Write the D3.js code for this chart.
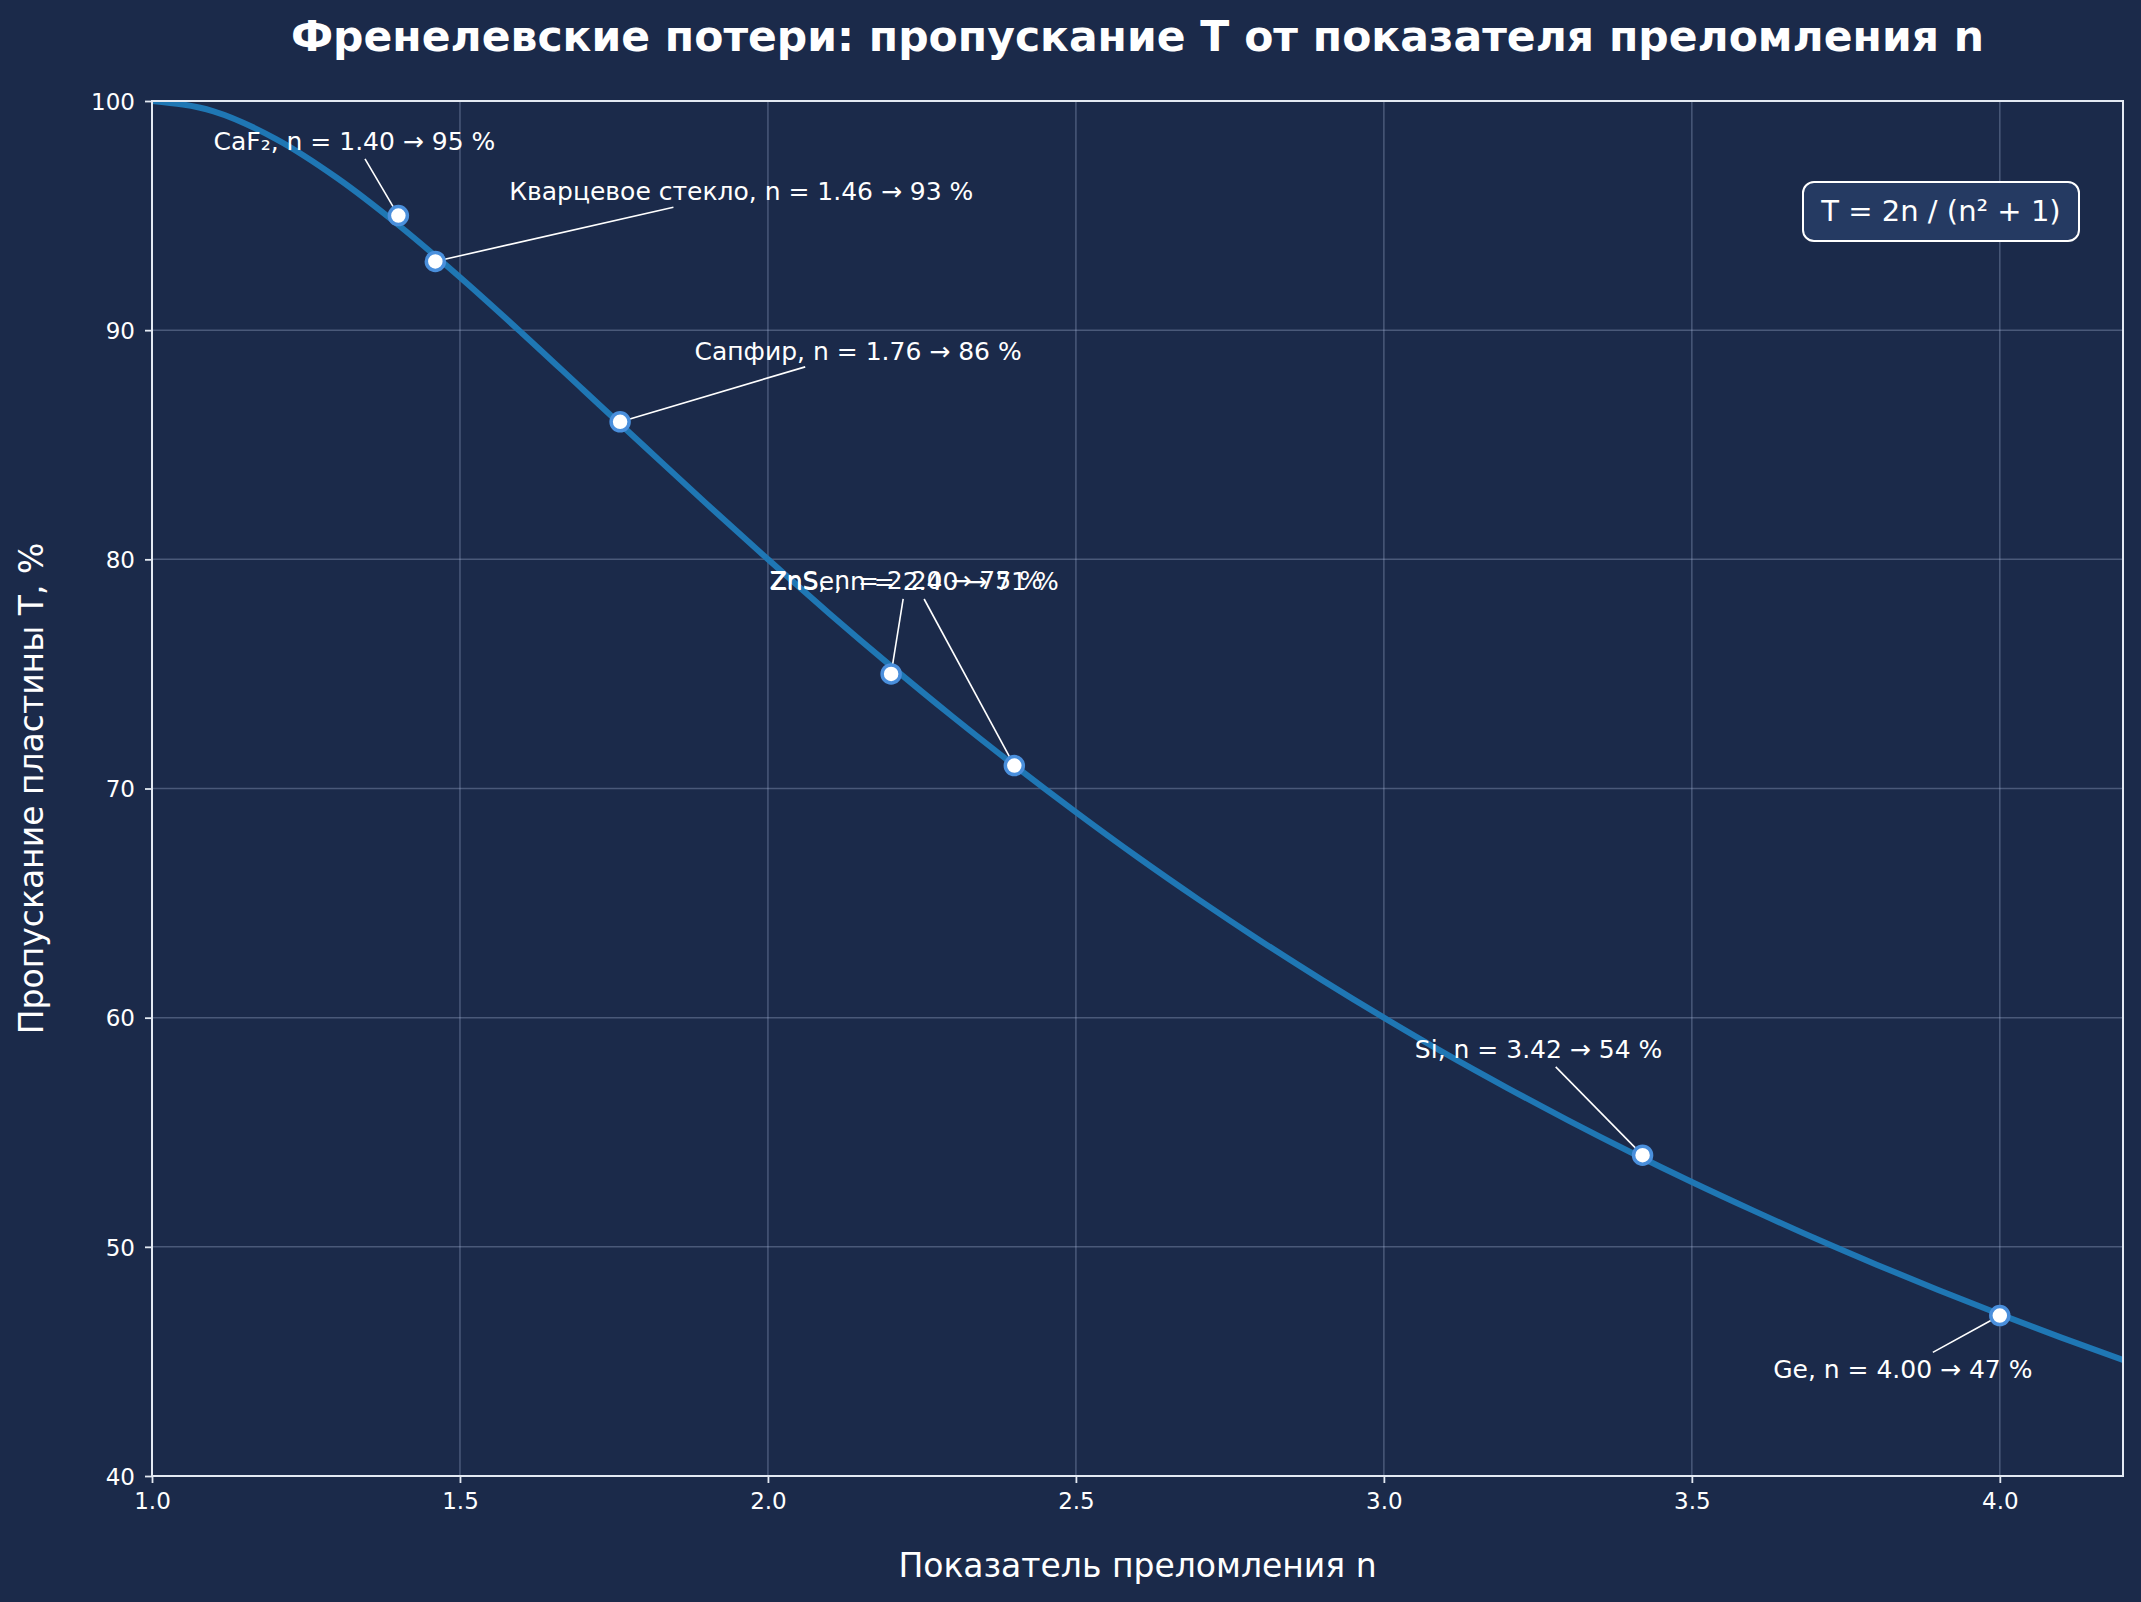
<!DOCTYPE html>
<html>
<head>
<meta charset="utf-8">
<script src="https://cdn.jsdelivr.net/npm/d3@7"></script>
<style>
  html, body { margin: 0; padding: 0; background: #1b2a4a; }
  text { font-family: "DejaVu Sans", sans-serif; fill: #ffffff; }
</style>
</head>
<body>
<div id="my_dataviz"></div>
<script>
// curve values (T in %, every 0.1 of n)
var nValues = [1.0, 1.1, 1.2, 1.3, 1.4, 1.5, 1.6, 1.7, 1.8, 1.9, 2.0, 2.1, 2.2, 2.3, 2.4, 2.5,
               2.6, 2.7, 2.8, 2.9, 3.0, 3.1, 3.2, 3.3, 3.4, 3.5, 3.6, 3.7, 3.8, 3.9, 4.0, 4.1, 4.2];
var tValues = [100.0, 99.55, 98.36, 96.65, 94.59, 92.31, 89.89, 87.40, 84.91, 82.43, 80.0, 77.63,
               75.34, 73.13, 71.01, 68.97, 67.01, 65.14, 63.35, 61.64, 60.0, 58.43, 56.94, 55.51,
               54.14, 52.83, 51.58, 50.37, 49.22, 48.12, 47.06, 46.04, 45.06];

// marked materials
var materials = ["CaF₂", "Кварцевое стекло", "Сапфир", "ZnS", "ZnSe", "Si", "Ge"];
var materialN = [1.40, 1.46, 1.76, 2.20, 2.40, 3.42, 4.00];
var materialT = [95, 93, 86, 75, 71, 54, 47];

var xTicks = [1.0, 1.5, 2.0, 2.5, 3.0, 3.5, 4.0];
var yTicks = [40, 50, 60, 70, 80, 90, 100];

// label offsets from the marker: [dx to text centre, dy to baseline], px
var labelOffsets = [[-44, -66], [306, -61], [238, -62], [15, -85], [-100, -176], [-104, -97], [-97, 62]];

var W = 2141, H = 1602;
var margin = {top: 101, right: 18, bottom: 126, left: 152},
    width = W - margin.left - margin.right,
    height = H - margin.top - margin.bottom;

var svg = d3.select("#my_dataviz")
  .append("svg")
    .attr("width", W)
    .attr("height", H);

svg.append("rect").attr("width", W).attr("height", H).attr("fill", "#1b2a4a");

var g = svg.append("g")
    .attr("transform", "translate(" + margin.left + "," + margin.top + ")");

var x = d3.scaleLinear().domain([1.0, 4.2]).range([0, width]);
var y = d3.scaleLinear().domain([40, 100]).range([height, 0]);

// grid
g.append("g")
  .selectAll("line")
  .data(xTicks)
  .enter().append("line")
    .attr("x1", function(d) { return x(d); })
    .attr("x2", function(d) { return x(d); })
    .attr("y1", 0).attr("y2", height)
    .attr("stroke", "rgba(170,185,220,0.33)").attr("stroke-width", 1.5);
g.append("g")
  .selectAll("line")
  .data(yTicks)
  .enter().append("line")
    .attr("y1", function(d) { return y(d); })
    .attr("y2", function(d) { return y(d); })
    .attr("x1", 0).attr("x2", width)
    .attr("stroke", "rgba(170,185,220,0.33)").attr("stroke-width", 1.5);

// axes
var xAxis = g.append("g")
  .attr("transform", "translate(0," + height + ")")
  .call(d3.axisBottom(x).tickValues(xTicks).tickFormat(d3.format(".1f")).tickSizeInner(7).tickSizeOuter(0).tickPadding(9));
var yAxis = g.append("g")
  .call(d3.axisLeft(y).tickValues(yTicks).tickFormat(d3.format("d")).tickSizeInner(7).tickSizeOuter(0).tickPadding(10));

[xAxis, yAxis].forEach(function(a) {
  a.select(".domain").remove();
  a.selectAll(".tick line").attr("stroke", "#e3e9f2").attr("stroke-width", 1.8);
  a.selectAll(".tick text").attr("fill", "#ffffff").style("font-size", "23px").style("font-family", "DejaVu Sans");
});
xAxis.selectAll(".tick text").attr("dy", "0.72em");
yAxis.selectAll(".tick text").attr("dy", "0.36em");

// curve
g.append("clipPath").attr("id", "plotclip")
  .append("rect").attr("width", width).attr("height", height);

var curveData = nValues.map(function(n, i) { return [n, tValues[i]]; });
g.append("path")
  .datum(curveData)
  .attr("clip-path", "url(#plotclip)")
  .attr("fill", "none")
  .attr("stroke", "#1f77b4")
  .attr("stroke-width", 6)
  .attr("d", d3.line()
    .x(function(d) { return x(d[0]); })
    .y(function(d) { return y(d[1]); })
    .curve(d3.curveMonotoneX));

// frame
g.append("rect")
  .attr("width", width).attr("height", height)
  .attr("fill", "none").attr("stroke", "#e3e9f2").attr("stroke-width", 2);

// annotations
var arrowG = g.append("g");
var labelG = g.append("g");
var fs = 25;
materials.forEach(function(m, i) {
  var px = x(materialN[i]), py = y(materialT[i]);
  var cx = px + labelOffsets[i][0], by = py + labelOffsets[i][1];
  var label = m + ", n = " + materialN[i].toFixed(2) + " → " + materialT[i] + " %";
  var t = labelG.append("text")
    .attr("x", cx).attr("y", by)
    .attr("text-anchor", "middle")
    .style("font-size", fs + "px")
    .text(label);
  var w = t.node().getComputedTextLength();
  var top = by - 0.93 * fs, bot = by + 0.236 * fs;
  var ccx = cx, ccy = (top + bot) / 2;
  var dx = px - ccx, dy = py - ccy;
  var tt = Math.min((w / 2) / Math.abs(dx || 1e-6), ((bot - top) / 2) / Math.abs(dy || 1e-6));
  var len = Math.sqrt(dx * dx + dy * dy), ux = dx / len, uy = dy / len;
  var sx = ccx + dx * tt + ux * 4, sy = ccy + dy * tt + uy * 4;
  arrowG.append("line")
    .attr("x1", sx).attr("y1", sy)
    .attr("x2", px - ux * 4).attr("y2", py - uy * 4)
    .attr("stroke", "#ffffff").attr("stroke-width", 1.6);
});

// markers
g.append("g")
  .selectAll("circle")
  .data(materialN)
  .enter().append("circle")
    .attr("cx", function(d) { return x(d); })
    .attr("cy", function(d, i) { return y(materialT[i]); })
    .attr("r", 9)
    .attr("fill", "#ffffff")
    .attr("stroke", "#4a8fdc")
    .attr("stroke-width", 3.5);

// formula box
svg.append("rect")
  .attr("x", 1803).attr("y", 182).attr("width", 276).attr("height", 59).attr("rx", 11)
  .attr("fill", "#253a62").attr("stroke", "#ffffff").attr("stroke-width", 2);
svg.append("text")
  .attr("x", 1941).attr("y", 221)
  .attr("text-anchor", "middle")
  .style("font-size", "29px")
  .text("T = 2n / (n² + 1)");

// title and axis labels
svg.append("text")
  .attr("x", margin.left + width / 2).attr("y", 51)
  .attr("text-anchor", "middle")
  .style("font-size", "42.5px").style("font-weight", "bold")
  .text("Френелевские потери: пропускание T от показателя преломления n");

svg.append("text")
  .attr("x", margin.left + width / 2).attr("y", 1577)
  .attr("text-anchor", "middle")
  .style("font-size", "33px")
  .text("Показатель преломления n");

svg.append("text")
  .attr("transform", "translate(43," + (margin.top + height / 2) + ") rotate(-90)")
  .attr("text-anchor", "middle")
  .style("font-size", "33px")
  .text("Пропускание пластины T, %");
</script>
</body>
</html>
